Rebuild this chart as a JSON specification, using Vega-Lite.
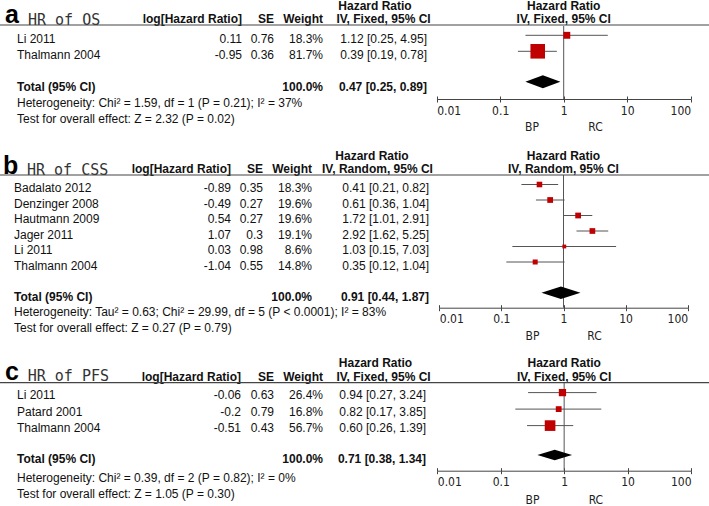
{
"$schema": "https://vega.github.io/schema/vega-lite/v6.json",
"width": 709, "height": 506, "autosize": {"type": "none"}, "padding": 0,
"config": {"view": {"stroke": null}, "text": {"font": "Liberation Sans", "fontSize": 12, "color": "#111"}},
"resolve": {"scale": {"x": "independent", "y": "independent", "size": "independent"}, "axis": {"x": "independent", "y": "independent"}},
"datasets": {
"a_head": [{"letter": "a", "title": "HR of OS", "hLog": "log[Hazard Ratio]", "hSE": "SE", "hW": "Weight", "hHR": "Hazard Ratio", "method": "IV, Fixed, 95% CI", "favL": "BP", "favR": "RC"}],
"b_head": [{"letter": "b", "title": "HR of CSS", "hLog": "log[Hazard Ratio]", "hSE": "SE", "hW": "Weight", "hHR": "Hazard Ratio", "method": "IV, Random, 95% CI", "favL": "BP", "favR": "RC"}],
"c_head": [{"letter": "c", "title": "HR of PFS", "hLog": "log[Hazard Ratio]", "hSE": "SE", "hW": "Weight", "hHR": "Hazard Ratio", "method": "IV, Fixed, 95% CI", "favL": "BP", "favR": "RC"}],
"a_studies": [
{"study": "Li 2011", "logHR": 0.11, "se": 0.76, "weight": 18.3, "hr": 1.12, "lo": 0.25, "hi": 4.95, "ci": "1.12 [0.25, 4.95]", "row": 1},
{"study": "Thalmann 2004", "logHR": -0.95, "se": 0.36, "weight": 81.7, "hr": 0.39, "lo": 0.19, "hi": 0.78, "ci": "0.39 [0.19, 0.78]", "row": 2}],
"a_total": [{"label": "Total (95% CI)", "weight": "100.0%", "hr": 0.47, "lo": 0.25, "hi": 0.89, "ci": "0.47 [0.25, 0.89]", "row": 4}],
"a_notes": [{"text": "Heterogeneity: Chi² = 1.59, df = 1 (P = 0.21); I² = 37%", "row": 5}, {"text": "Test for overall effect: Z = 2.32 (P = 0.02)", "row": 6}],
"b_studies": [
{"study": "Badalato 2012", "logHR": -0.89, "se": 0.35, "weight": 18.3, "hr": 0.41, "lo": 0.21, "hi": 0.82, "ci": "0.41 [0.21, 0.82]", "row": 1},
{"study": "Denzinger 2008", "logHR": -0.49, "se": 0.27, "weight": 19.6, "hr": 0.61, "lo": 0.36, "hi": 1.04, "ci": "0.61 [0.36, 1.04]", "row": 2},
{"study": "Hautmann 2009", "logHR": 0.54, "se": 0.27, "weight": 19.6, "hr": 1.72, "lo": 1.01, "hi": 2.91, "ci": "1.72 [1.01, 2.91]", "row": 3},
{"study": "Jager 2011", "logHR": 1.07, "se": 0.3, "weight": 19.1, "hr": 2.92, "lo": 1.62, "hi": 5.25, "ci": "2.92 [1.62, 5.25]", "row": 4},
{"study": "Li 2011", "logHR": 0.03, "se": 0.98, "weight": 8.6, "hr": 1.03, "lo": 0.15, "hi": 7.03, "ci": "1.03 [0.15, 7.03]", "row": 5},
{"study": "Thalmann 2004", "logHR": -1.04, "se": 0.55, "weight": 14.8, "hr": 0.35, "lo": 0.12, "hi": 1.04, "ci": "0.35 [0.12, 1.04]", "row": 6}],
"b_total": [{"label": "Total (95% CI)", "weight": "100.0%", "hr": 0.91, "lo": 0.44, "hi": 1.87, "ci": "0.91 [0.44, 1.87]", "row": 8}],
"b_notes": [{"text": "Heterogeneity: Tau² = 0.63; Chi² = 29.99, df = 5 (P < 0.0001); I² = 83%", "row": 9}, {"text": "Test for overall effect: Z = 0.27 (P = 0.79)", "row": 10}],
"c_studies": [
{"study": "Li 2011", "logHR": -0.06, "se": 0.63, "weight": 26.4, "hr": 0.94, "lo": 0.27, "hi": 3.24, "ci": "0.94 [0.27, 3.24]", "row": 1},
{"study": "Patard 2001", "logHR": -0.2, "se": 0.79, "weight": 16.8, "hr": 0.82, "lo": 0.17, "hi": 3.85, "ci": "0.82 [0.17, 3.85]", "row": 2},
{"study": "Thalmann 2004", "logHR": -0.51, "se": 0.43, "weight": 56.7, "hr": 0.60, "lo": 0.26, "hi": 1.39, "ci": "0.60 [0.26, 1.39]", "row": 3}],
"c_total": [{"label": "Total (95% CI)", "weight": "100.0%", "hr": 0.71, "lo": 0.38, "hi": 1.34, "ci": "0.71 [0.38, 1.34]", "row": 5}],
"c_notes": [{"text": "Heterogeneity: Chi² = 0.39, df = 2 (P = 0.82); I² = 0%", "row": 6}, {"text": "Test for overall effect: Z = 1.05 (P = 0.30)", "row": 7}]
},
"layer": [
{"data": {"name": "a_head"}, "mark": {"type": "text", "align": "left", "baseline": "alphabetic", "fontWeight": "bold", "fontSize": 25, "dx": -12, "dy": -0.3, "color": "#000"}, "encoding": {"x": {"datum": 0, "type": "quantitative", "scale": {"domain": [0,1,2,3,4,5], "range": [17,242,274,323,379,427], "nice": false, "zero": false}, "axis": null}, "y": {"datum": 0, "type": "quantitative", "scale": {"domain": [-1,6], "range": [7.3,119.3], "nice": false, "zero": false}, "axis": null}, "text": {"field": "letter", "type": "nominal"}}},
{"data": {"name": "a_head"}, "mark": {"type": "text", "align": "left", "baseline": "alphabetic", "font": "DejaVu Sans Mono", "fontSize": 15, "dx": 11, "dy": 1.7, "color": "#333"}, "encoding": {"x": {"datum": 0, "type": "quantitative", "scale": {"domain": [0,1,2,3,4,5], "range": [17,242,274,323,379,427], "nice": false, "zero": false}, "axis": null}, "y": {"datum": 0, "type": "quantitative", "scale": {"domain": [-1,6], "range": [7.3,119.3], "nice": false, "zero": false}, "axis": null}, "text": {"field": "title", "type": "nominal"}}},
{"data": {"name": "a_head"}, "mark": {"type": "text", "align": "right", "baseline": "alphabetic", "fontWeight": "bold", "dy": -0.6}, "encoding": {"x": {"datum": 1, "type": "quantitative", "scale": {"domain": [0,1,2,3,4,5], "range": [17,242,274,323,379,427], "nice": false, "zero": false}, "axis": null}, "y": {"datum": 0, "type": "quantitative", "scale": {"domain": [-1,6], "range": [7.3,119.3], "nice": false, "zero": false}, "axis": null}, "text": {"field": "hLog", "type": "nominal"}}},
{"data": {"name": "a_head"}, "mark": {"type": "text", "align": "right", "baseline": "alphabetic", "fontWeight": "bold", "dy": -0.6}, "encoding": {"x": {"datum": 2, "type": "quantitative", "scale": {"domain": [0,1,2,3,4,5], "range": [17,242,274,323,379,427], "nice": false, "zero": false}, "axis": null}, "y": {"datum": 0, "type": "quantitative", "scale": {"domain": [-1,6], "range": [7.3,119.3], "nice": false, "zero": false}, "axis": null}, "text": {"field": "hSE", "type": "nominal"}}},
{"data": {"name": "a_head"}, "mark": {"type": "text", "align": "right", "baseline": "alphabetic", "fontWeight": "bold", "dy": -0.6}, "encoding": {"x": {"datum": 3, "type": "quantitative", "scale": {"domain": [0,1,2,3,4,5], "range": [17,242,274,323,379,427], "nice": false, "zero": false}, "axis": null}, "y": {"datum": 0, "type": "quantitative", "scale": {"domain": [-1,6], "range": [7.3,119.3], "nice": false, "zero": false}, "axis": null}, "text": {"field": "hW", "type": "nominal"}}},
{"data": {"name": "a_head"}, "mark": {"type": "text", "align": "center", "baseline": "alphabetic", "fontWeight": "bold", "dx": -4, "dy": 2.8}, "encoding": {"x": {"datum": 4, "type": "quantitative", "scale": {"domain": [0,1,2,3,4,5], "range": [17,242,274,323,379,427], "nice": false, "zero": false}, "axis": null}, "y": {"datum": -1, "type": "quantitative", "scale": {"domain": [-1,6], "range": [7.3,119.3], "nice": false, "zero": false}, "axis": null}, "text": {"field": "hHR", "type": "nominal"}}},
{"data": {"name": "a_head"}, "mark": {"type": "text", "align": "center", "baseline": "alphabetic", "fontWeight": "bold", "dx": 4.5, "dy": -0.6}, "encoding": {"x": {"datum": 4, "type": "quantitative", "scale": {"domain": [0,1,2,3,4,5], "range": [17,242,274,323,379,427], "nice": false, "zero": false}, "axis": null}, "y": {"datum": 0, "type": "quantitative", "scale": {"domain": [-1,6], "range": [7.3,119.3], "nice": false, "zero": false}, "axis": null}, "text": {"field": "method", "type": "nominal"}}},
{"data": {"name": "a_head"}, "mark": {"type": "text", "align": "center", "baseline": "alphabetic", "fontWeight": "bold", "dy": 2.8}, "encoding": {"x": {"datum": 1, "type": "quantitative", "scale": {"type": "log", "domain": [0.01,100], "range": [436.7,690.7]}, "axis": null}, "y": {"datum": -1, "type": "quantitative", "scale": {"domain": [-1,6], "range": [7.3,119.3], "nice": false, "zero": false}, "axis": null}, "text": {"field": "hHR", "type": "nominal"}}},
{"data": {"name": "a_head"}, "mark": {"type": "text", "align": "center", "baseline": "alphabetic", "fontWeight": "bold", "dy": -0.6}, "encoding": {"x": {"datum": 1, "type": "quantitative", "scale": {"type": "log", "domain": [0.01,100], "range": [436.7,690.7]}, "axis": null}, "y": {"datum": 0, "type": "quantitative", "scale": {"domain": [-1,6], "range": [7.3,119.3], "nice": false, "zero": false}, "axis": null}, "text": {"field": "method", "type": "nominal"}}},
{"data": {"name": "a_head"}, "mark": {"type": "rule", "color": "#444", "strokeWidth": 1.2, "yOffset": 1.7}, "encoding": {"y": {"datum": 0, "type": "quantitative", "scale": {"domain": [-1,6], "range": [7.3,119.3], "nice": false, "zero": false}, "axis": null}}},
{"data": {"name": "a_studies"}, "mark": {"type": "text", "align": "left", "baseline": "alphabetic", "dy": 4}, "encoding": {"x": {"datum": 0, "type": "quantitative", "scale": {"domain": [0,1,2,3,4,5], "range": [17,242,274,323,379,427], "nice": false, "zero": false}, "axis": null}, "y": {"field": "row", "type": "quantitative", "scale": {"domain": [-1,6], "range": [7.3,119.3], "nice": false, "zero": false}, "axis": null}, "text": {"field": "study", "type": "nominal"}}},
{"data": {"name": "a_studies"}, "mark": {"type": "text", "align": "right", "baseline": "alphabetic", "dy": 4}, "encoding": {"x": {"datum": 1, "type": "quantitative", "scale": {"domain": [0,1,2,3,4,5], "range": [17,242,274,323,379,427], "nice": false, "zero": false}, "axis": null}, "y": {"field": "row", "type": "quantitative", "scale": {"domain": [-1,6], "range": [7.3,119.3], "nice": false, "zero": false}, "axis": null}, "text": {"field": "logHR", "type": "nominal"}}},
{"data": {"name": "a_studies"}, "mark": {"type": "text", "align": "right", "baseline": "alphabetic", "dy": 4}, "encoding": {"x": {"datum": 2, "type": "quantitative", "scale": {"domain": [0,1,2,3,4,5], "range": [17,242,274,323,379,427], "nice": false, "zero": false}, "axis": null}, "y": {"field": "row", "type": "quantitative", "scale": {"domain": [-1,6], "range": [7.3,119.3], "nice": false, "zero": false}, "axis": null}, "text": {"field": "se", "type": "nominal"}}},
{"data": {"name": "a_studies"}, "transform": [{"calculate": "format(datum.weight, '.1f') + '%'", "as": "wlabel"}], "mark": {"type": "text", "align": "right", "baseline": "alphabetic", "dy": 4}, "encoding": {"x": {"datum": 3, "type": "quantitative", "scale": {"domain": [0,1,2,3,4,5], "range": [17,242,274,323,379,427], "nice": false, "zero": false}, "axis": null}, "y": {"field": "row", "type": "quantitative", "scale": {"domain": [-1,6], "range": [7.3,119.3], "nice": false, "zero": false}, "axis": null}, "text": {"field": "wlabel", "type": "nominal"}}},
{"data": {"name": "a_studies"}, "mark": {"type": "text", "align": "right", "baseline": "alphabetic", "dy": 4}, "encoding": {"x": {"datum": 5, "type": "quantitative", "scale": {"domain": [0,1,2,3,4,5], "range": [17,242,274,323,379,427], "nice": false, "zero": false}, "axis": null}, "y": {"field": "row", "type": "quantitative", "scale": {"domain": [-1,6], "range": [7.3,119.3], "nice": false, "zero": false}, "axis": null}, "text": {"field": "ci", "type": "nominal"}}},
{"data": {"name": "a_total"}, "mark": {"type": "text", "align": "left", "baseline": "alphabetic", "fontWeight": "bold", "dy": 4}, "encoding": {"x": {"datum": 0, "type": "quantitative", "scale": {"domain": [0,1,2,3,4,5], "range": [17,242,274,323,379,427], "nice": false, "zero": false}, "axis": null}, "y": {"field": "row", "type": "quantitative", "scale": {"domain": [-1,6], "range": [7.3,119.3], "nice": false, "zero": false}, "axis": null}, "text": {"field": "label", "type": "nominal"}}},
{"data": {"name": "a_total"}, "mark": {"type": "text", "align": "right", "baseline": "alphabetic", "fontWeight": "bold", "dy": 4}, "encoding": {"x": {"datum": 3, "type": "quantitative", "scale": {"domain": [0,1,2,3,4,5], "range": [17,242,274,323,379,427], "nice": false, "zero": false}, "axis": null}, "y": {"field": "row", "type": "quantitative", "scale": {"domain": [-1,6], "range": [7.3,119.3], "nice": false, "zero": false}, "axis": null}, "text": {"field": "weight", "type": "nominal"}}},
{"data": {"name": "a_total"}, "mark": {"type": "text", "align": "right", "baseline": "alphabetic", "fontWeight": "bold", "dy": 4}, "encoding": {"x": {"datum": 5, "type": "quantitative", "scale": {"domain": [0,1,2,3,4,5], "range": [17,242,274,323,379,427], "nice": false, "zero": false}, "axis": null}, "y": {"field": "row", "type": "quantitative", "scale": {"domain": [-1,6], "range": [7.3,119.3], "nice": false, "zero": false}, "axis": null}, "text": {"field": "ci", "type": "nominal"}}},
{"data": {"name": "a_notes"}, "mark": {"type": "text", "align": "left", "baseline": "alphabetic", "dy": 4}, "encoding": {"x": {"datum": 0, "type": "quantitative", "scale": {"domain": [0,1,2,3,4,5], "range": [17,242,274,323,379,427], "nice": false, "zero": false}, "axis": null}, "y": {"field": "row", "type": "quantitative", "scale": {"domain": [-1,6], "range": [7.3,119.3], "nice": false, "zero": false}, "axis": null}, "text": {"field": "text", "type": "nominal"}}},
{"data": {"name": "a_head"}, "mark": {"type": "rule", "color": "#555", "yOffset": 2.7, "y2Offset": -4.3}, "encoding": {"x": {"datum": 1, "type": "quantitative", "scale": {"type": "log", "domain": [0.01,100], "range": [436.7,690.7]}, "axis": {"orient": "bottom", "offset": -407, "values": [0.01,0.1,1,10,100], "title": null, "grid": false, "domain": false, "labels": false, "tickColor": "#444", "tickSize": -3}}, "y": {"datum": 0, "type": "quantitative", "scale": {"domain": [-1,6], "range": [7.3,119.3], "nice": false, "zero": false}, "axis": null}, "y2": {"datum": 5}}},
{"data": {"name": "a_studies"}, "mark": {"type": "rule", "color": "#555", "yOffset": -4}, "encoding": {"x": {"field": "lo", "type": "quantitative", "scale": {"type": "log", "domain": [0.01,100], "range": [436.7,690.7]}, "axis": {"orient": "bottom", "offset": -407, "values": [0.01,0.1,1,10,100], "format": "~g", "title": null, "grid": false, "domainColor": "#444", "tickColor": "#444", "tickSize": 3, "labelFont": "Liberation Sans Narrow, DejaVu Sans Condensed, Roboto Condensed, Roboto", "labelFontSize": 12, "labelColor": "#222", "labelFlush": true, "labelPadding": 3, "labelOverlap": false}}, "x2": {"field": "hi"}, "y": {"field": "row", "type": "quantitative", "scale": {"domain": [-1,6], "range": [7.3,119.3], "nice": false, "zero": false}, "axis": null}}},
{"data": {"name": "a_studies"}, "mark": {"type": "square", "color": "#C00000", "opacity": 1, "yOffset": -4}, "encoding": {"x": {"field": "hr", "type": "quantitative", "scale": {"type": "log", "domain": [0.01,100], "range": [436.7,690.7]}, "axis": null}, "y": {"field": "row", "type": "quantitative", "scale": {"domain": [-1,6], "range": [7.3,119.3], "nice": false, "zero": false}, "axis": null}, "size": {"field": "weight", "type": "quantitative", "scale": {"domain": [0,100], "range": [0,260]}, "legend": null}}},
{"data": {"name": "a_total"}, "transform": [{"calculate": "log(datum.hi / datum.lo) / LN10", "as": "span"}], "mark": {"type": "point", "shape": "M-1,0L0,-0.37L1,0L0,0.37Z", "filled": true, "color": "#000", "opacity": 1, "strokeWidth": 0, "yOffset": -5.6}, "encoding": {"x": {"field": "hr", "type": "quantitative", "scale": {"type": "log", "domain": [0.01,100], "range": [436.7,690.7]}, "axis": null}, "y": {"field": "row", "type": "quantitative", "scale": {"domain": [-1,6], "range": [7.3,119.3], "nice": false, "zero": false}, "axis": null}, "size": {"field": "span", "type": "quantitative", "scale": {"type": "pow", "exponent": 2, "domain": [0,1], "range": [0,4032]}, "legend": null}}},
{"data": {"name": "a_head"}, "mark": {"type": "text", "align": "center", "baseline": "alphabetic", "font": "Liberation Sans Narrow, DejaVu Sans Condensed, Roboto Condensed, Roboto", "color": "#222", "dy": 11.4}, "encoding": {"x": {"datum": 0.3162, "type": "quantitative", "scale": {"type": "log", "domain": [0.01,100], "range": [436.7,690.7]}, "axis": null}, "y": {"datum": 6, "type": "quantitative", "scale": {"domain": [-1,6], "range": [7.3,119.3], "nice": false, "zero": false}, "axis": null}, "text": {"field": "favL", "type": "nominal"}}},
{"data": {"name": "a_head"}, "mark": {"type": "text", "align": "center", "baseline": "alphabetic", "font": "Liberation Sans Narrow, DejaVu Sans Condensed, Roboto Condensed, Roboto", "color": "#222", "dy": 11.4}, "encoding": {"x": {"datum": 3.162, "type": "quantitative", "scale": {"type": "log", "domain": [0.01,100], "range": [436.7,690.7]}, "axis": null}, "y": {"datum": 6, "type": "quantitative", "scale": {"domain": [-1,6], "range": [7.3,119.3], "nice": false, "zero": false}, "axis": null}, "text": {"field": "favR", "type": "nominal"}}},

{"data": {"name": "b_head"}, "mark": {"type": "text", "align": "left", "baseline": "alphabetic", "fontWeight": "bold", "fontSize": 25, "dx": -11, "dy": 1.2, "color": "#000"}, "encoding": {"x": {"datum": 0, "type": "quantitative", "scale": {"domain": [0,1,2,3,4,5], "range": [14,231,263,312,375,429], "nice": false, "zero": false}, "axis": null}, "y": {"datum": 0, "type": "quantitative", "scale": {"domain": [-1,10], "range": [157.3,327.8], "nice": false, "zero": false}, "axis": null}, "text": {"field": "letter", "type": "nominal"}}},
{"data": {"name": "b_head"}, "mark": {"type": "text", "align": "left", "baseline": "alphabetic", "font": "DejaVu Sans Mono", "fontSize": 15, "dx": 13, "dy": 2.2, "color": "#333"}, "encoding": {"x": {"datum": 0, "type": "quantitative", "scale": {"domain": [0,1,2,3,4,5], "range": [14,231,263,312,375,429], "nice": false, "zero": false}, "axis": null}, "y": {"datum": 0, "type": "quantitative", "scale": {"domain": [-1,10], "range": [157.3,327.8], "nice": false, "zero": false}, "axis": null}, "text": {"field": "title", "type": "nominal"}}},
{"data": {"name": "b_head"}, "mark": {"type": "text", "align": "right", "baseline": "alphabetic", "fontWeight": "bold", "dy": 0.5}, "encoding": {"x": {"datum": 1, "type": "quantitative", "scale": {"domain": [0,1,2,3,4,5], "range": [14,231,263,312,375,429], "nice": false, "zero": false}, "axis": null}, "y": {"datum": 0, "type": "quantitative", "scale": {"domain": [-1,10], "range": [157.3,327.8], "nice": false, "zero": false}, "axis": null}, "text": {"field": "hLog", "type": "nominal"}}},
{"data": {"name": "b_head"}, "mark": {"type": "text", "align": "right", "baseline": "alphabetic", "fontWeight": "bold", "dy": 0.5}, "encoding": {"x": {"datum": 2, "type": "quantitative", "scale": {"domain": [0,1,2,3,4,5], "range": [14,231,263,312,375,429], "nice": false, "zero": false}, "axis": null}, "y": {"datum": 0, "type": "quantitative", "scale": {"domain": [-1,10], "range": [157.3,327.8], "nice": false, "zero": false}, "axis": null}, "text": {"field": "hSE", "type": "nominal"}}},
{"data": {"name": "b_head"}, "mark": {"type": "text", "align": "right", "baseline": "alphabetic", "fontWeight": "bold", "dy": 0.5}, "encoding": {"x": {"datum": 3, "type": "quantitative", "scale": {"domain": [0,1,2,3,4,5], "range": [14,231,263,312,375,429], "nice": false, "zero": false}, "axis": null}, "y": {"datum": 0, "type": "quantitative", "scale": {"domain": [-1,10], "range": [157.3,327.8], "nice": false, "zero": false}, "axis": null}, "text": {"field": "hW", "type": "nominal"}}},
{"data": {"name": "b_head"}, "mark": {"type": "text", "align": "center", "baseline": "alphabetic", "fontWeight": "bold", "dx": -3, "dy": 2.7}, "encoding": {"x": {"datum": 4, "type": "quantitative", "scale": {"domain": [0,1,2,3,4,5], "range": [14,231,263,312,375,429], "nice": false, "zero": false}, "axis": null}, "y": {"datum": -1, "type": "quantitative", "scale": {"domain": [-1,10], "range": [157.3,327.8], "nice": false, "zero": false}, "axis": null}, "text": {"field": "hHR", "type": "nominal"}}},
{"data": {"name": "b_head"}, "mark": {"type": "text", "align": "center", "baseline": "alphabetic", "fontWeight": "bold", "dx": 2.5, "dy": 0.5}, "encoding": {"x": {"datum": 4, "type": "quantitative", "scale": {"domain": [0,1,2,3,4,5], "range": [14,231,263,312,375,429], "nice": false, "zero": false}, "axis": null}, "y": {"datum": 0, "type": "quantitative", "scale": {"domain": [-1,10], "range": [157.3,327.8], "nice": false, "zero": false}, "axis": null}, "text": {"field": "method", "type": "nominal"}}},
{"data": {"name": "b_head"}, "mark": {"type": "text", "align": "center", "baseline": "alphabetic", "fontWeight": "bold", "dy": 2.7}, "encoding": {"x": {"datum": 1, "type": "quantitative", "scale": {"type": "log", "domain": [0.01,100], "range": [439.3,687.7]}, "axis": null}, "y": {"datum": -1, "type": "quantitative", "scale": {"domain": [-1,10], "range": [157.3,327.8], "nice": false, "zero": false}, "axis": null}, "text": {"field": "hHR", "type": "nominal"}}},
{"data": {"name": "b_head"}, "mark": {"type": "text", "align": "center", "baseline": "alphabetic", "fontWeight": "bold", "dy": 0.5}, "encoding": {"x": {"datum": 1, "type": "quantitative", "scale": {"type": "log", "domain": [0.01,100], "range": [439.3,687.7]}, "axis": null}, "y": {"datum": 0, "type": "quantitative", "scale": {"domain": [-1,10], "range": [157.3,327.8], "nice": false, "zero": false}, "axis": null}, "text": {"field": "method", "type": "nominal"}}},
{"data": {"name": "b_head"}, "mark": {"type": "rule", "color": "#444", "strokeWidth": 1.2, "yOffset": 2.2}, "encoding": {"y": {"datum": 0, "type": "quantitative", "scale": {"domain": [-1,10], "range": [157.3,327.8], "nice": false, "zero": false}, "axis": null}}},
{"data": {"name": "b_studies"}, "mark": {"type": "text", "align": "left", "baseline": "alphabetic", "dy": 4}, "encoding": {"x": {"datum": 0, "type": "quantitative", "scale": {"domain": [0,1,2,3,4,5], "range": [14,231,263,312,375,429], "nice": false, "zero": false}, "axis": null}, "y": {"field": "row", "type": "quantitative", "scale": {"domain": [-1,10], "range": [157.3,327.8], "nice": false, "zero": false}, "axis": null}, "text": {"field": "study", "type": "nominal"}}},
{"data": {"name": "b_studies"}, "mark": {"type": "text", "align": "right", "baseline": "alphabetic", "dy": 4}, "encoding": {"x": {"datum": 1, "type": "quantitative", "scale": {"domain": [0,1,2,3,4,5], "range": [14,231,263,312,375,429], "nice": false, "zero": false}, "axis": null}, "y": {"field": "row", "type": "quantitative", "scale": {"domain": [-1,10], "range": [157.3,327.8], "nice": false, "zero": false}, "axis": null}, "text": {"field": "logHR", "type": "nominal"}}},
{"data": {"name": "b_studies"}, "mark": {"type": "text", "align": "right", "baseline": "alphabetic", "dy": 4}, "encoding": {"x": {"datum": 2, "type": "quantitative", "scale": {"domain": [0,1,2,3,4,5], "range": [14,231,263,312,375,429], "nice": false, "zero": false}, "axis": null}, "y": {"field": "row", "type": "quantitative", "scale": {"domain": [-1,10], "range": [157.3,327.8], "nice": false, "zero": false}, "axis": null}, "text": {"field": "se", "type": "nominal"}}},
{"data": {"name": "b_studies"}, "transform": [{"calculate": "format(datum.weight, '.1f') + '%'", "as": "wlabel"}], "mark": {"type": "text", "align": "right", "baseline": "alphabetic", "dy": 4}, "encoding": {"x": {"datum": 3, "type": "quantitative", "scale": {"domain": [0,1,2,3,4,5], "range": [14,231,263,312,375,429], "nice": false, "zero": false}, "axis": null}, "y": {"field": "row", "type": "quantitative", "scale": {"domain": [-1,10], "range": [157.3,327.8], "nice": false, "zero": false}, "axis": null}, "text": {"field": "wlabel", "type": "nominal"}}},
{"data": {"name": "b_studies"}, "mark": {"type": "text", "align": "right", "baseline": "alphabetic", "dy": 4}, "encoding": {"x": {"datum": 5, "type": "quantitative", "scale": {"domain": [0,1,2,3,4,5], "range": [14,231,263,312,375,429], "nice": false, "zero": false}, "axis": null}, "y": {"field": "row", "type": "quantitative", "scale": {"domain": [-1,10], "range": [157.3,327.8], "nice": false, "zero": false}, "axis": null}, "text": {"field": "ci", "type": "nominal"}}},
{"data": {"name": "b_total"}, "mark": {"type": "text", "align": "left", "baseline": "alphabetic", "fontWeight": "bold", "dy": 4}, "encoding": {"x": {"datum": 0, "type": "quantitative", "scale": {"domain": [0,1,2,3,4,5], "range": [14,231,263,312,375,429], "nice": false, "zero": false}, "axis": null}, "y": {"field": "row", "type": "quantitative", "scale": {"domain": [-1,10], "range": [157.3,327.8], "nice": false, "zero": false}, "axis": null}, "text": {"field": "label", "type": "nominal"}}},
{"data": {"name": "b_total"}, "mark": {"type": "text", "align": "right", "baseline": "alphabetic", "fontWeight": "bold", "dy": 4}, "encoding": {"x": {"datum": 3, "type": "quantitative", "scale": {"domain": [0,1,2,3,4,5], "range": [14,231,263,312,375,429], "nice": false, "zero": false}, "axis": null}, "y": {"field": "row", "type": "quantitative", "scale": {"domain": [-1,10], "range": [157.3,327.8], "nice": false, "zero": false}, "axis": null}, "text": {"field": "weight", "type": "nominal"}}},
{"data": {"name": "b_total"}, "mark": {"type": "text", "align": "right", "baseline": "alphabetic", "fontWeight": "bold", "dy": 4}, "encoding": {"x": {"datum": 5, "type": "quantitative", "scale": {"domain": [0,1,2,3,4,5], "range": [14,231,263,312,375,429], "nice": false, "zero": false}, "axis": null}, "y": {"field": "row", "type": "quantitative", "scale": {"domain": [-1,10], "range": [157.3,327.8], "nice": false, "zero": false}, "axis": null}, "text": {"field": "ci", "type": "nominal"}}},
{"data": {"name": "b_notes"}, "mark": {"type": "text", "align": "left", "baseline": "alphabetic", "dy": 4}, "encoding": {"x": {"datum": 0, "type": "quantitative", "scale": {"domain": [0,1,2,3,4,5], "range": [14,231,263,312,375,429], "nice": false, "zero": false}, "axis": null}, "y": {"field": "row", "type": "quantitative", "scale": {"domain": [-1,10], "range": [157.3,327.8], "nice": false, "zero": false}, "axis": null}, "text": {"field": "text", "type": "nominal"}}},
{"data": {"name": "b_head"}, "mark": {"type": "rule", "color": "#555", "yOffset": 2.2, "y2Offset": -4.6}, "encoding": {"x": {"datum": 1, "type": "quantitative", "scale": {"type": "log", "domain": [0.01,100], "range": [439.3,687.7]}, "axis": {"orient": "bottom", "offset": -198.3, "values": [0.01,0.1,1,10,100], "title": null, "grid": false, "domain": false, "labels": false, "tickColor": "#444", "tickSize": -3}}, "y": {"datum": 0, "type": "quantitative", "scale": {"domain": [-1,10], "range": [157.3,327.8], "nice": false, "zero": false}, "axis": null}, "y2": {"datum": 9}}},
{"data": {"name": "b_studies"}, "mark": {"type": "rule", "color": "#555", "yOffset": -3.8}, "encoding": {"x": {"field": "lo", "type": "quantitative", "scale": {"type": "log", "domain": [0.01,100], "range": [439.3,687.7]}, "axis": {"orient": "bottom", "offset": -198.3, "values": [0.01,0.1,1,10,100], "format": "~g", "title": null, "grid": false, "domainColor": "#444", "tickColor": "#444", "tickSize": 3, "labelFont": "Liberation Sans Narrow, DejaVu Sans Condensed, Roboto Condensed, Roboto", "labelFontSize": 12, "labelColor": "#222", "labelFlush": true, "labelPadding": 3, "labelOverlap": false}}, "x2": {"field": "hi"}, "y": {"field": "row", "type": "quantitative", "scale": {"domain": [-1,10], "range": [157.3,327.8], "nice": false, "zero": false}, "axis": null}}},
{"data": {"name": "b_studies"}, "mark": {"type": "square", "color": "#C00000", "opacity": 1, "yOffset": -3.8}, "encoding": {"x": {"field": "hr", "type": "quantitative", "scale": {"type": "log", "domain": [0.01,100], "range": [439.3,687.7]}, "axis": null}, "y": {"field": "row", "type": "quantitative", "scale": {"domain": [-1,10], "range": [157.3,327.8], "nice": false, "zero": false}, "axis": null}, "size": {"field": "weight", "type": "quantitative", "scale": {"domain": [0,100], "range": [0,170]}, "legend": null}}},
{"data": {"name": "b_total"}, "transform": [{"calculate": "log(datum.hi / datum.lo) / LN10", "as": "span"}], "mark": {"type": "point", "shape": "M-1,0L0,-0.32L1,0L0,0.32Z", "filled": true, "color": "#000", "opacity": 1, "strokeWidth": 0, "yOffset": -4.1}, "encoding": {"x": {"field": "hr", "type": "quantitative", "scale": {"type": "log", "domain": [0.01,100], "range": [439.3,687.7]}, "axis": null}, "y": {"field": "row", "type": "quantitative", "scale": {"domain": [-1,10], "range": [157.3,327.8], "nice": false, "zero": false}, "axis": null}, "size": {"field": "span", "type": "quantitative", "scale": {"type": "pow", "exponent": 2, "domain": [0,1], "range": [0,3856]}, "legend": null}}},
{"data": {"name": "b_head"}, "mark": {"type": "text", "align": "center", "baseline": "alphabetic", "font": "Liberation Sans Narrow, DejaVu Sans Condensed, Roboto Condensed, Roboto", "color": "#222", "dy": 12.2}, "encoding": {"x": {"datum": 0.3162, "type": "quantitative", "scale": {"type": "log", "domain": [0.01,100], "range": [439.3,687.7]}, "axis": null}, "y": {"datum": 10, "type": "quantitative", "scale": {"domain": [-1,10], "range": [157.3,327.8], "nice": false, "zero": false}, "axis": null}, "text": {"field": "favL", "type": "nominal"}}},
{"data": {"name": "b_head"}, "mark": {"type": "text", "align": "center", "baseline": "alphabetic", "font": "Liberation Sans Narrow, DejaVu Sans Condensed, Roboto Condensed, Roboto", "color": "#222", "dy": 12.2}, "encoding": {"x": {"datum": 3.162, "type": "quantitative", "scale": {"type": "log", "domain": [0.01,100], "range": [439.3,687.7]}, "axis": null}, "y": {"datum": 10, "type": "quantitative", "scale": {"domain": [-1,10], "range": [157.3,327.8], "nice": false, "zero": false}, "axis": null}, "text": {"field": "favR", "type": "nominal"}}},

{"data": {"name": "c_head"}, "mark": {"type": "text", "align": "left", "baseline": "alphabetic", "fontWeight": "bold", "fontSize": 25, "dx": -12, "dy": 1.2, "color": "#000"}, "encoding": {"x": {"datum": 0, "type": "quantitative", "scale": {"domain": [0,1,2,3,4,5], "range": [17,241,274,323,379,426], "nice": false, "zero": false}, "axis": null}, "y": {"datum": 0, "type": "quantitative", "scale": {"domain": [-1,7], "range": [362.3,494.3], "nice": false, "zero": false}, "axis": null}, "text": {"field": "letter", "type": "nominal"}}},
{"data": {"name": "c_head"}, "mark": {"type": "text", "align": "left", "baseline": "alphabetic", "font": "DejaVu Sans Mono", "fontSize": 15, "dx": 10.7, "dy": 1.9, "color": "#333"}, "encoding": {"x": {"datum": 0, "type": "quantitative", "scale": {"domain": [0,1,2,3,4,5], "range": [17,241,274,323,379,426], "nice": false, "zero": false}, "axis": null}, "y": {"datum": 0, "type": "quantitative", "scale": {"domain": [-1,7], "range": [362.3,494.3], "nice": false, "zero": false}, "axis": null}, "text": {"field": "title", "type": "nominal"}}},
{"data": {"name": "c_head"}, "mark": {"type": "text", "align": "right", "baseline": "alphabetic", "fontWeight": "bold", "dy": 2.2}, "encoding": {"x": {"datum": 1, "type": "quantitative", "scale": {"domain": [0,1,2,3,4,5], "range": [17,241,274,323,379,426], "nice": false, "zero": false}, "axis": null}, "y": {"datum": 0, "type": "quantitative", "scale": {"domain": [-1,7], "range": [362.3,494.3], "nice": false, "zero": false}, "axis": null}, "text": {"field": "hLog", "type": "nominal"}}},
{"data": {"name": "c_head"}, "mark": {"type": "text", "align": "right", "baseline": "alphabetic", "fontWeight": "bold", "dy": 2.2}, "encoding": {"x": {"datum": 2, "type": "quantitative", "scale": {"domain": [0,1,2,3,4,5], "range": [17,241,274,323,379,426], "nice": false, "zero": false}, "axis": null}, "y": {"datum": 0, "type": "quantitative", "scale": {"domain": [-1,7], "range": [362.3,494.3], "nice": false, "zero": false}, "axis": null}, "text": {"field": "hSE", "type": "nominal"}}},
{"data": {"name": "c_head"}, "mark": {"type": "text", "align": "right", "baseline": "alphabetic", "fontWeight": "bold", "dy": 2.2}, "encoding": {"x": {"datum": 3, "type": "quantitative", "scale": {"domain": [0,1,2,3,4,5], "range": [17,241,274,323,379,426], "nice": false, "zero": false}, "axis": null}, "y": {"datum": 0, "type": "quantitative", "scale": {"domain": [-1,7], "range": [362.3,494.3], "nice": false, "zero": false}, "axis": null}, "text": {"field": "hW", "type": "nominal"}}},
{"data": {"name": "c_head"}, "mark": {"type": "text", "align": "center", "baseline": "alphabetic", "fontWeight": "bold", "dx": -3.5, "dy": 5}, "encoding": {"x": {"datum": 4, "type": "quantitative", "scale": {"domain": [0,1,2,3,4,5], "range": [17,241,274,323,379,426], "nice": false, "zero": false}, "axis": null}, "y": {"datum": -1, "type": "quantitative", "scale": {"domain": [-1,7], "range": [362.3,494.3], "nice": false, "zero": false}, "axis": null}, "text": {"field": "hHR", "type": "nominal"}}},
{"data": {"name": "c_head"}, "mark": {"type": "text", "align": "center", "baseline": "alphabetic", "fontWeight": "bold", "dx": 4.5, "dy": 2.2}, "encoding": {"x": {"datum": 4, "type": "quantitative", "scale": {"domain": [0,1,2,3,4,5], "range": [17,241,274,323,379,426], "nice": false, "zero": false}, "axis": null}, "y": {"datum": 0, "type": "quantitative", "scale": {"domain": [-1,7], "range": [362.3,494.3], "nice": false, "zero": false}, "axis": null}, "text": {"field": "method", "type": "nominal"}}},
{"data": {"name": "c_head"}, "mark": {"type": "text", "align": "center", "baseline": "alphabetic", "fontWeight": "bold", "dy": 5}, "encoding": {"x": {"datum": 1, "type": "quantitative", "scale": {"type": "log", "domain": [0.01,100], "range": [437.3,691]}, "axis": null}, "y": {"datum": -1, "type": "quantitative", "scale": {"domain": [-1,7], "range": [362.3,494.3], "nice": false, "zero": false}, "axis": null}, "text": {"field": "hHR", "type": "nominal"}}},
{"data": {"name": "c_head"}, "mark": {"type": "text", "align": "center", "baseline": "alphabetic", "fontWeight": "bold", "dy": 2.2}, "encoding": {"x": {"datum": 1, "type": "quantitative", "scale": {"type": "log", "domain": [0.01,100], "range": [437.3,691]}, "axis": null}, "y": {"datum": 0, "type": "quantitative", "scale": {"domain": [-1,7], "range": [362.3,494.3], "nice": false, "zero": false}, "axis": null}, "text": {"field": "method", "type": "nominal"}}},
{"data": {"name": "c_head"}, "mark": {"type": "rule", "color": "#444", "strokeWidth": 1.2, "yOffset": 3.9}, "encoding": {"y": {"datum": 0, "type": "quantitative", "scale": {"domain": [-1,7], "range": [362.3,494.3], "nice": false, "zero": false}, "axis": null}}},
{"data": {"name": "c_studies"}, "mark": {"type": "text", "align": "left", "baseline": "alphabetic", "dy": 4}, "encoding": {"x": {"datum": 0, "type": "quantitative", "scale": {"domain": [0,1,2,3,4,5], "range": [17,241,274,323,379,426], "nice": false, "zero": false}, "axis": null}, "y": {"field": "row", "type": "quantitative", "scale": {"domain": [-1,7], "range": [362.3,494.3], "nice": false, "zero": false}, "axis": null}, "text": {"field": "study", "type": "nominal"}}},
{"data": {"name": "c_studies"}, "mark": {"type": "text", "align": "right", "baseline": "alphabetic", "dy": 4}, "encoding": {"x": {"datum": 1, "type": "quantitative", "scale": {"domain": [0,1,2,3,4,5], "range": [17,241,274,323,379,426], "nice": false, "zero": false}, "axis": null}, "y": {"field": "row", "type": "quantitative", "scale": {"domain": [-1,7], "range": [362.3,494.3], "nice": false, "zero": false}, "axis": null}, "text": {"field": "logHR", "type": "nominal"}}},
{"data": {"name": "c_studies"}, "mark": {"type": "text", "align": "right", "baseline": "alphabetic", "dy": 4}, "encoding": {"x": {"datum": 2, "type": "quantitative", "scale": {"domain": [0,1,2,3,4,5], "range": [17,241,274,323,379,426], "nice": false, "zero": false}, "axis": null}, "y": {"field": "row", "type": "quantitative", "scale": {"domain": [-1,7], "range": [362.3,494.3], "nice": false, "zero": false}, "axis": null}, "text": {"field": "se", "type": "nominal"}}},
{"data": {"name": "c_studies"}, "transform": [{"calculate": "format(datum.weight, '.1f') + '%'", "as": "wlabel"}], "mark": {"type": "text", "align": "right", "baseline": "alphabetic", "dy": 4}, "encoding": {"x": {"datum": 3, "type": "quantitative", "scale": {"domain": [0,1,2,3,4,5], "range": [17,241,274,323,379,426], "nice": false, "zero": false}, "axis": null}, "y": {"field": "row", "type": "quantitative", "scale": {"domain": [-1,7], "range": [362.3,494.3], "nice": false, "zero": false}, "axis": null}, "text": {"field": "wlabel", "type": "nominal"}}},
{"data": {"name": "c_studies"}, "mark": {"type": "text", "align": "right", "baseline": "alphabetic", "dy": 4}, "encoding": {"x": {"datum": 5, "type": "quantitative", "scale": {"domain": [0,1,2,3,4,5], "range": [17,241,274,323,379,426], "nice": false, "zero": false}, "axis": null}, "y": {"field": "row", "type": "quantitative", "scale": {"domain": [-1,7], "range": [362.3,494.3], "nice": false, "zero": false}, "axis": null}, "text": {"field": "ci", "type": "nominal"}}},
{"data": {"name": "c_total"}, "mark": {"type": "text", "align": "left", "baseline": "alphabetic", "fontWeight": "bold", "dy": 1.5}, "encoding": {"x": {"datum": 0, "type": "quantitative", "scale": {"domain": [0,1,2,3,4,5], "range": [17,241,274,323,379,426], "nice": false, "zero": false}, "axis": null}, "y": {"field": "row", "type": "quantitative", "scale": {"domain": [-1,7], "range": [362.3,494.3], "nice": false, "zero": false}, "axis": null}, "text": {"field": "label", "type": "nominal"}}},
{"data": {"name": "c_total"}, "mark": {"type": "text", "align": "right", "baseline": "alphabetic", "fontWeight": "bold", "dy": 1.5}, "encoding": {"x": {"datum": 3, "type": "quantitative", "scale": {"domain": [0,1,2,3,4,5], "range": [17,241,274,323,379,426], "nice": false, "zero": false}, "axis": null}, "y": {"field": "row", "type": "quantitative", "scale": {"domain": [-1,7], "range": [362.3,494.3], "nice": false, "zero": false}, "axis": null}, "text": {"field": "weight", "type": "nominal"}}},
{"data": {"name": "c_total"}, "mark": {"type": "text", "align": "right", "baseline": "alphabetic", "fontWeight": "bold", "dy": 1.5}, "encoding": {"x": {"datum": 5, "type": "quantitative", "scale": {"domain": [0,1,2,3,4,5], "range": [17,241,274,323,379,426], "nice": false, "zero": false}, "axis": null}, "y": {"field": "row", "type": "quantitative", "scale": {"domain": [-1,7], "range": [362.3,494.3], "nice": false, "zero": false}, "axis": null}, "text": {"field": "ci", "type": "nominal"}}},
{"data": {"name": "c_notes"}, "mark": {"type": "text", "align": "left", "baseline": "alphabetic", "dy": 4}, "encoding": {"x": {"datum": 0, "type": "quantitative", "scale": {"domain": [0,1,2,3,4,5], "range": [17,241,274,323,379,426], "nice": false, "zero": false}, "axis": null}, "y": {"field": "row", "type": "quantitative", "scale": {"domain": [-1,7], "range": [362.3,494.3], "nice": false, "zero": false}, "axis": null}, "text": {"field": "text", "type": "nominal"}}},
{"data": {"name": "c_head"}, "mark": {"type": "rule", "color": "#555", "yOffset": 4.2, "y2Offset": -7.1}, "encoding": {"x": {"datum": 1, "type": "quantitative", "scale": {"type": "log", "domain": [0.01,100], "range": [437.3,691]}, "axis": {"orient": "bottom", "offset": -35.3, "values": [0.01,0.1,1,10,100], "title": null, "grid": false, "domain": false, "labels": false, "tickColor": "#444", "tickSize": -3}}, "y": {"datum": 0, "type": "quantitative", "scale": {"domain": [-1,7], "range": [362.3,494.3], "nice": false, "zero": false}, "axis": null}, "y2": {"datum": 6}}},
{"data": {"name": "c_studies"}, "mark": {"type": "rule", "color": "#555", "yOffset": -2.7}, "encoding": {"x": {"field": "lo", "type": "quantitative", "scale": {"type": "log", "domain": [0.01,100], "range": [437.3,691]}, "axis": {"orient": "bottom", "offset": -35.3, "values": [0.01,0.1,1,10,100], "format": "~g", "title": null, "grid": false, "domainColor": "#444", "tickColor": "#444", "tickSize": 3, "labelFont": "Liberation Sans Narrow, DejaVu Sans Condensed, Roboto Condensed, Roboto", "labelFontSize": 12, "labelColor": "#222", "labelFlush": true, "labelPadding": 3, "labelOverlap": false}}, "x2": {"field": "hi"}, "y": {"field": "row", "type": "quantitative", "scale": {"domain": [-1,7], "range": [362.3,494.3], "nice": false, "zero": false}, "axis": null}}},
{"data": {"name": "c_studies"}, "mark": {"type": "square", "color": "#C00000", "opacity": 1, "yOffset": -2.7}, "encoding": {"x": {"field": "hr", "type": "quantitative", "scale": {"type": "log", "domain": [0.01,100], "range": [437.3,691]}, "axis": null}, "y": {"field": "row", "type": "quantitative", "scale": {"domain": [-1,7], "range": [362.3,494.3], "nice": false, "zero": false}, "axis": null}, "size": {"field": "weight", "type": "quantitative", "scale": {"domain": [0,100], "range": [0,200]}, "legend": null}}},
{"data": {"name": "c_total"}, "transform": [{"calculate": "log(datum.hi / datum.lo) / LN10", "as": "span"}], "mark": {"type": "point", "shape": "M-1,0L0,-0.3L1,0L0,0.3Z", "filled": true, "color": "#000", "opacity": 1, "strokeWidth": 0, "yOffset": -6.3}, "encoding": {"x": {"field": "hr", "type": "quantitative", "scale": {"type": "log", "domain": [0.01,100], "range": [437.3,691]}, "axis": null}, "y": {"field": "row", "type": "quantitative", "scale": {"domain": [-1,7], "range": [362.3,494.3], "nice": false, "zero": false}, "axis": null}, "size": {"field": "span", "type": "quantitative", "scale": {"type": "pow", "exponent": 2, "domain": [0,1], "range": [0,4020]}, "legend": null}}},
{"data": {"name": "c_head"}, "mark": {"type": "text", "align": "center", "baseline": "alphabetic", "font": "Liberation Sans Narrow, DejaVu Sans Condensed, Roboto Condensed, Roboto", "color": "#222", "dy": 9.7}, "encoding": {"x": {"datum": 0.3162, "type": "quantitative", "scale": {"type": "log", "domain": [0.01,100], "range": [437.3,691]}, "axis": null}, "y": {"datum": 7, "type": "quantitative", "scale": {"domain": [-1,7], "range": [362.3,494.3], "nice": false, "zero": false}, "axis": null}, "text": {"field": "favL", "type": "nominal"}}},
{"data": {"name": "c_head"}, "mark": {"type": "text", "align": "center", "baseline": "alphabetic", "font": "Liberation Sans Narrow, DejaVu Sans Condensed, Roboto Condensed, Roboto", "color": "#222", "dy": 9.7}, "encoding": {"x": {"datum": 3.162, "type": "quantitative", "scale": {"type": "log", "domain": [0.01,100], "range": [437.3,691]}, "axis": null}, "y": {"datum": 7, "type": "quantitative", "scale": {"domain": [-1,7], "range": [362.3,494.3], "nice": false, "zero": false}, "axis": null}, "text": {"field": "favR", "type": "nominal"}}}
]
}
